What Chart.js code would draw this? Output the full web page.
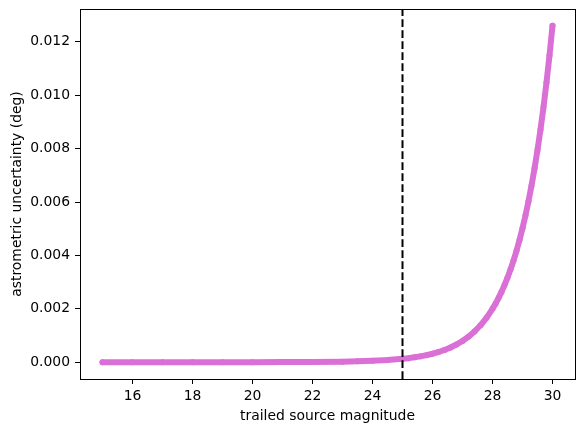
<!DOCTYPE html>
<html>
<head>
<meta charset="utf-8">
<script src="https://cdn.jsdelivr.net/npm/chart.js@4"></script>
<style>
    html, body { margin: 0; padding: 0; background: #fff; }
    #wrap { width: 585px; height: 432px; }
</style>
</head>
<body>
<div id="wrap"><canvas id="chart" width="585" height="432"></canvas></div>
<script>
// trailed source magnitude vs astrometric uncertainty (deg)
const magnitudes = [15, 16, 17, 18, 19, 20, 21, 22, 23, 23.5, 24, 24.5, 25,
    25.2, 25.4, 25.6, 25.8, 26, 26.2, 26.4, 26.6, 26.8, 27, 27.2, 27.4, 27.6, 27.8,
    28, 28.1, 28.2, 28.3, 28.4, 28.5, 28.6, 28.7, 28.8, 28.9,
    29, 29.1, 29.2, 29.3, 29.4, 29.5, 29.6, 29.7, 29.8, 29.9, 30];
const uncertainty = [0.00000001, 0.00000003, 0.00000008, 0.0000002, 0.0000005, 0.0000013, 0.0000032, 0.000008, 0.00002, 0.000032, 0.00005, 0.000079, 0.000126,
    0.000151, 0.000182, 0.000219, 0.000263, 0.000317, 0.000381, 0.000457, 0.00055, 0.000661, 0.000795, 0.000956, 0.001149, 0.001382, 0.001661,
    0.001997, 0.00219, 0.002401, 0.002633, 0.002887, 0.003165, 0.00347, 0.003805, 0.004172, 0.004575,
    0.005016, 0.0055, 0.006031, 0.006613, 0.007251, 0.00795, 0.008717, 0.009558, 0.01048, 0.011491, 0.0126];
const cutoffMagnitude = 25;

const xTicks = [16, 18, 20, 22, 24, 26, 28, 30];
const yTicks = [0, 0.002, 0.004, 0.006, 0.008, 0.010, 0.012];
const xMin = 14.25, xMax = 30.75;
const yMin = -0.00063, yMax = 0.01323;

const font = {family: "'DejaVu Sans', sans-serif", size: 13.9};

const points = magnitudes.map((m, i) => ({x: m, y: uncertainty[i]}));

// box round the axes, like the matplotlib spines
const frame = {
    id: "frame",
    afterDraw(chart) {
        const {ctx, chartArea: a} = chart;
        ctx.save();
        ctx.strokeStyle = "#000";
        ctx.lineWidth = 1;
        ctx.strokeRect(Math.round(a.left) + 0.5, Math.round(a.top) + 0.5,
            Math.round(a.right - a.left), Math.round(a.bottom - a.top));
        ctx.restore();
    }
};

new Chart(document.querySelector("#chart").getContext("2d"), {
    type: "scatter",
    data: {
        datasets: [{
            label: "cutoff",
            data: [{x: cutoffMagnitude, y: yMin}, {x: cutoffMagnitude, y: yMax}],
            showLine: true,
            borderColor: "#000",
            borderWidth: 2,
            borderDash: [7.7, 3.3],
            pointRadius: 0,
            order: 0
        }, {
            label: "uncertainty",
            data: points,
            showLine: true,
            borderColor: "#da70d6",
            borderWidth: 6,
            borderCapStyle: "round",
            borderJoinStyle: "round",
            backgroundColor: "#da70d6",
            pointRadius: 3,
            pointBorderWidth: 0,
            order: 1
        }]
    },
    options: {
        responsive: false,
        animation: false,
        layout: {padding: {top: 9, right: 10, left: 0, bottom: 0}},
        plugins: {legend: {display: false}, tooltip: {enabled: false}},
        scales: {
            x: {
                type: "linear",
                min: xMin,
                max: xMax,
                afterBuildTicks: (scale) => { scale.ticks = xTicks.map(v => ({value: v})); },
                afterFit: (scale) => {
                    scale.height = 53;
                    scale.paddingLeft = 0;
                    scale.paddingRight = 0;
                },
                grid: {drawOnChartArea: false, drawTicks: true, tickLength: 5, tickColor: "#000", tickWidth: 1},
                border: {color: "#000", width: 1},
                ticks: {color: "#000", font: font, padding: 4, maxRotation: 0,
                    callback: (v) => v.toString()},
                title: {display: true, text: "trailed source magnitude", color: "#000", font: font,
                    padding: {top: 2, bottom: 7}}
            },
            y: {
                type: "linear",
                min: yMin,
                max: yMax,
                afterBuildTicks: (scale) => { scale.ticks = yTicks.map(v => ({value: v})); },
                afterFit: (scale) => {
                    scale.width = 80;
                    scale.paddingTop = 0;
                    scale.paddingBottom = 0;
                },
                grid: {drawOnChartArea: false, drawTicks: true, tickLength: 5, tickColor: "#000", tickWidth: 1},
                border: {color: "#000", width: 1},
                ticks: {color: "#000", font: font, padding: 5,
                    callback: (v) => v.toFixed(3)},
                title: {display: true, text: "astrometric uncertainty (deg)", color: "#000", font: font,
                    padding: {top: 9, bottom: 0}}
            }
        }
    },
    plugins: [frame]
});
</script>
</body>
</html>
